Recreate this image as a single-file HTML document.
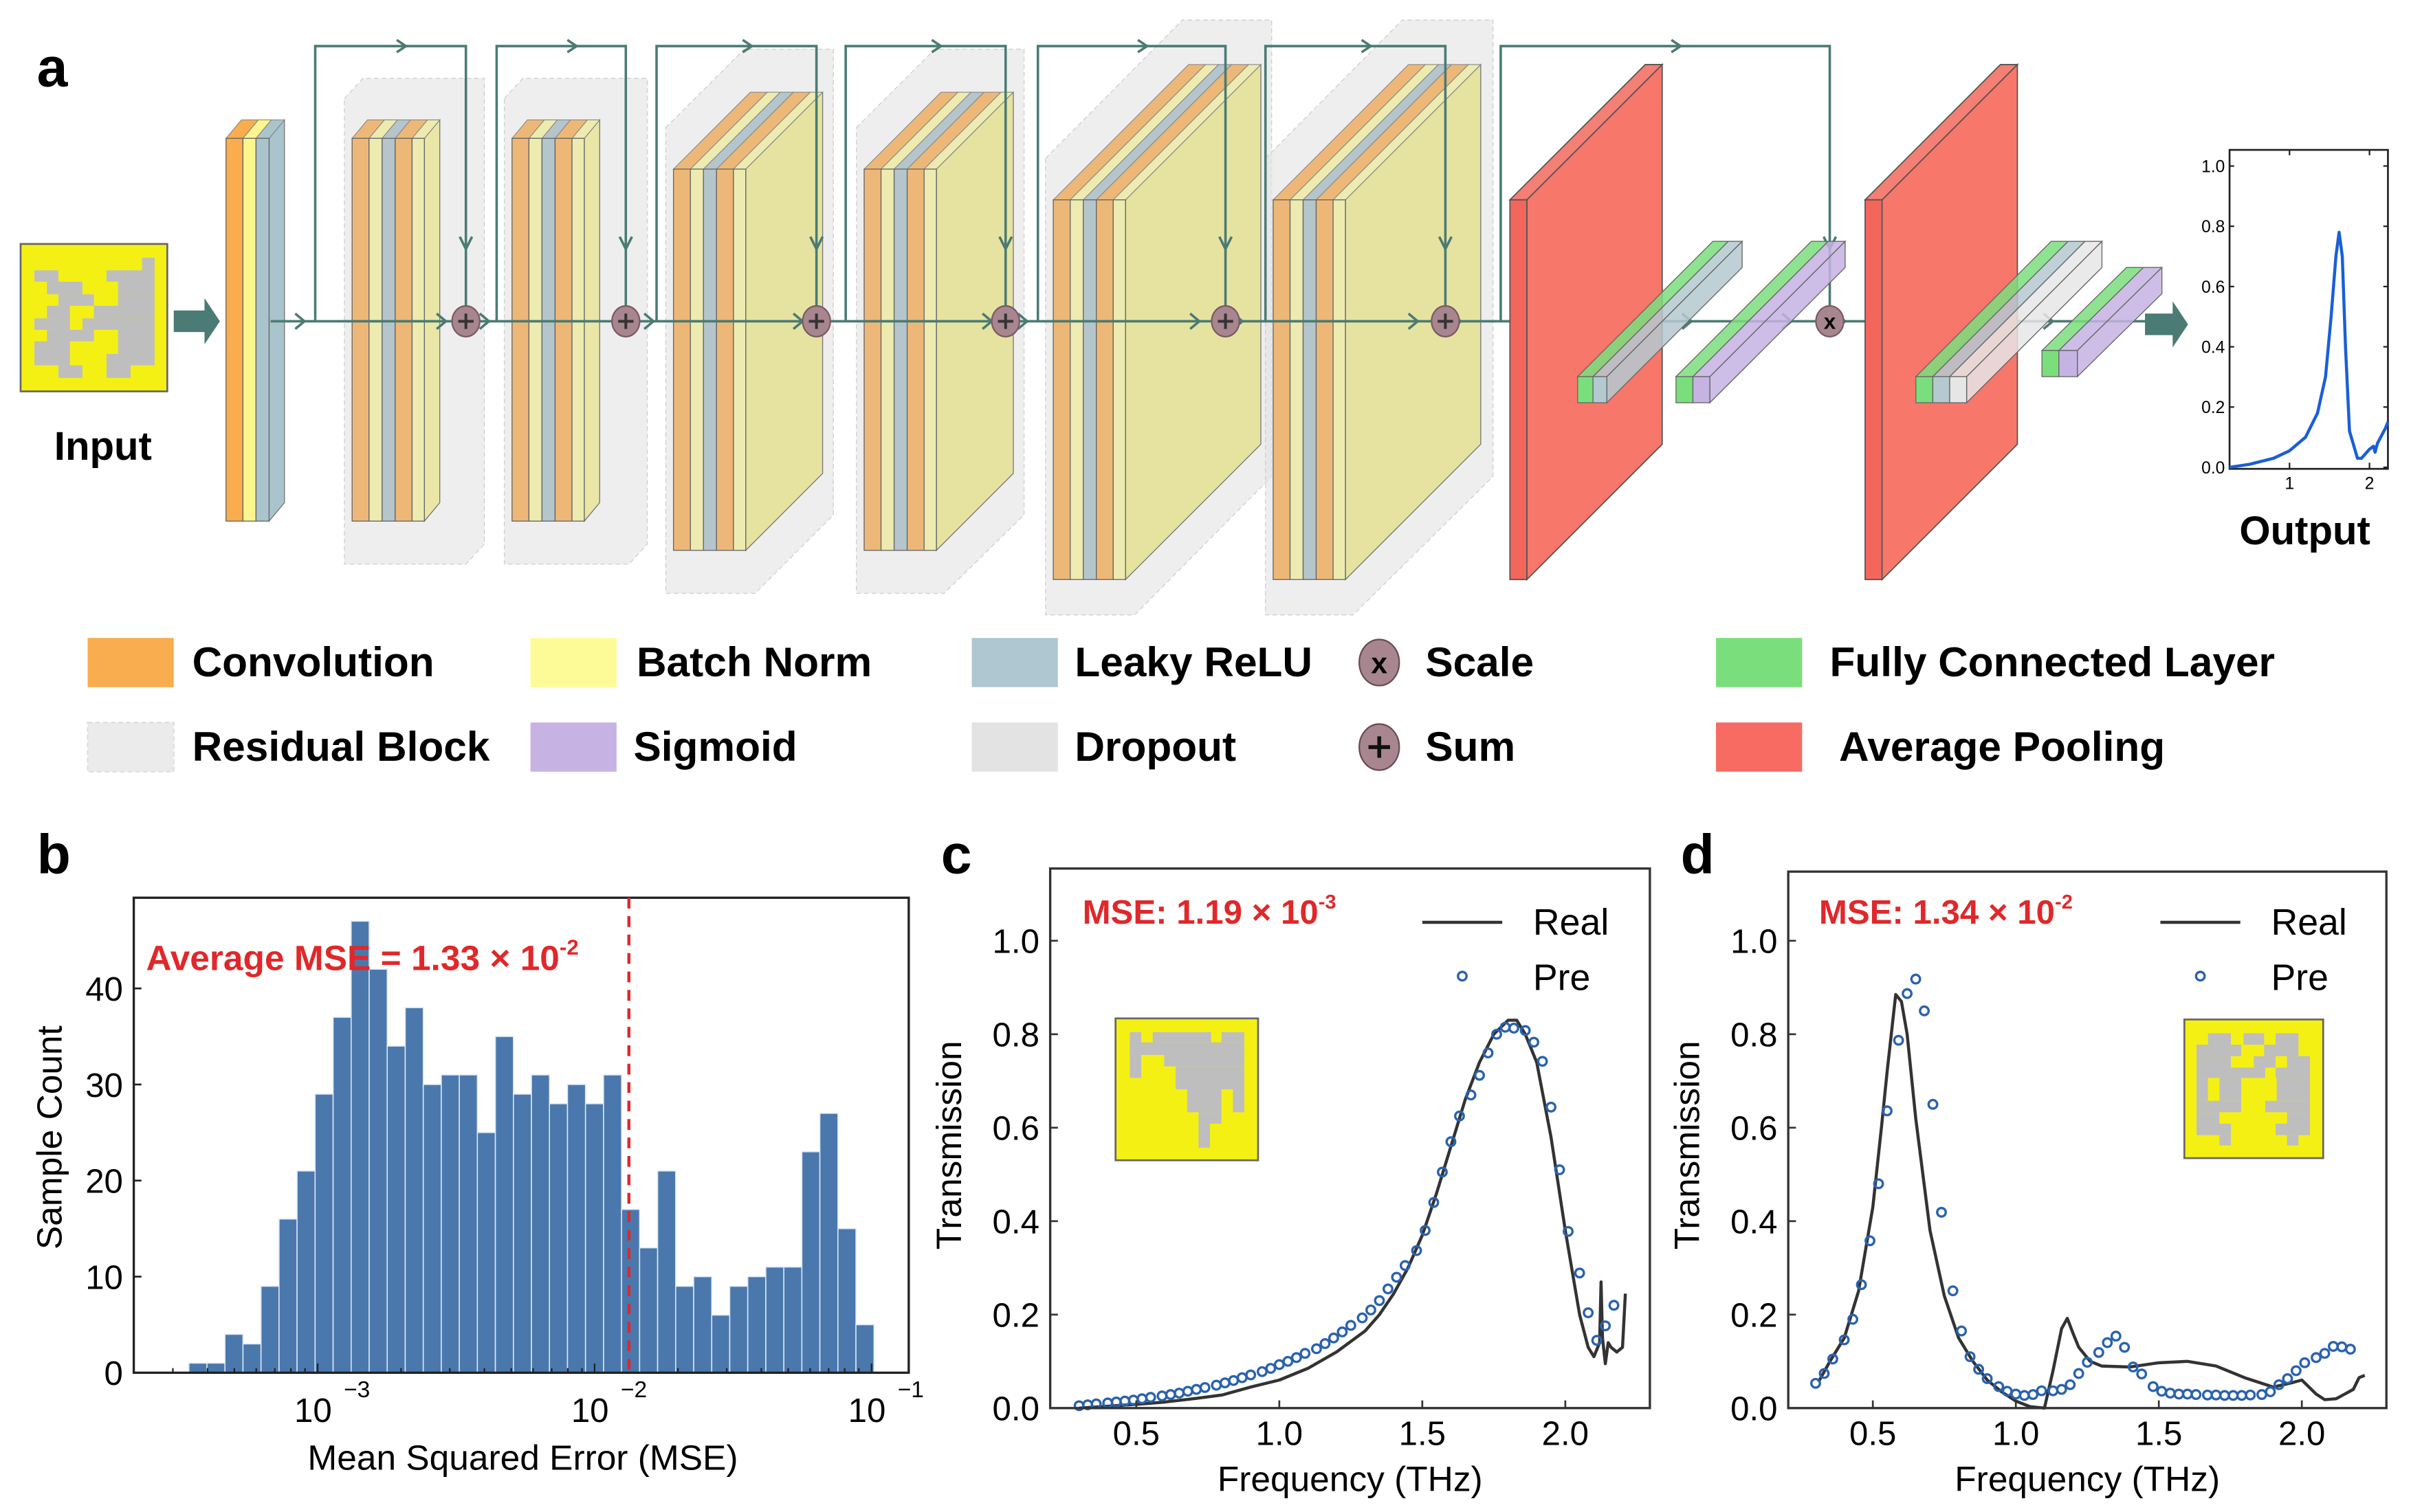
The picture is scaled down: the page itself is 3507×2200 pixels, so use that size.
<!DOCTYPE html>
<html><head><meta charset="utf-8"><style>
html,body{margin:0;padding:0;background:#fff;}
svg{display:block;font-family:"Liberation Sans",sans-serif;}
</style></head><body>
<svg id="fig" width="3507" height="2200" viewBox="0 0 1568 983.6" preserveAspectRatio="none" xmlns="http://www.w3.org/2000/svg">
<rect width="1568" height="983.6" fill="#fff"/>
<g id="diagram"></g>
<g id="legendA"></g>
<g id="chartB"></g>
<g id="chartC"></g>
<g id="chartD"></g>
</svg>
<script>
// ===== Panel b data =====
const histCounts=[1,1,4,3,9,16,21,29,37,47,42,34,38,30,31,31,25,35,29,31,28,30,28,31,17,13,21,9,10,6,9,10,11,11,23,27,15,5];
const binStartExp=-3.465, binWidthExp=0.0651;
const avgMSE=0.0133;
const bYTicks=[0,10,20,30,40];
const bXTickExps=[-3,-2,-1];
// ===== Panel c data =====
const cPreFreq=[0.30,0.33,0.36,0.40,0.43,0.46,0.49,0.52,0.55,0.59,0.62,0.65,0.68,0.71,0.74,0.78,0.81,0.84,0.87,0.90,0.94,0.97,1.00,1.03,1.06,1.09,1.13,1.16,1.19,1.22,1.25,1.29,1.32,1.35,1.38,1.41,1.44,1.48,1.51,1.54,1.57,1.60,1.63,1.67,1.70,1.73,1.76,1.79,1.82,1.86,1.89,1.92,1.95,1.98,2.01,2.05,2.08,2.11,2.14,2.17];
const cPreVal=[0.005,0.007,0.009,0.011,0.013,0.015,0.017,0.02,0.023,0.026,0.029,0.032,0.036,0.04,0.044,0.049,0.054,0.059,0.065,0.071,0.078,0.085,0.093,0.1,0.108,0.117,0.127,0.138,0.15,0.163,0.177,0.193,0.21,0.23,0.255,0.28,0.305,0.337,0.38,0.44,0.505,0.57,0.625,0.67,0.712,0.76,0.8,0.815,0.813,0.808,0.783,0.742,0.644,0.51,0.378,0.289,0.204,0.145,0.176,0.22];
const cRealFreq=[0.3,0.4,0.5,0.6,0.7,0.8,0.9,1.0,1.1,1.2,1.3,1.35,1.4,1.45,1.5,1.55,1.6,1.65,1.7,1.75,1.8,1.83,1.86,1.9,1.95,2.0,2.05,2.08,2.1,2.12,2.125,2.13,2.14,2.15,2.16,2.18,2.2,2.21];
const cRealVal=[0.0,0.004,0.008,0.013,0.02,0.028,0.045,0.06,0.085,0.12,0.165,0.2,0.245,0.3,0.37,0.46,0.56,0.66,0.74,0.8,0.83,0.83,0.8,0.74,0.58,0.38,0.2,0.13,0.11,0.14,0.27,0.15,0.095,0.14,0.13,0.12,0.13,0.245];
// ===== Panel d data =====
const dPreFreq=cPreFreq.slice();
const dPreVal=[0.053,0.074,0.105,0.146,0.19,0.264,0.358,0.48,0.636,0.787,0.887,0.918,0.85,0.65,0.419,0.251,0.165,0.11,0.083,0.063,0.046,0.036,0.03,0.027,0.029,0.037,0.037,0.04,0.05,0.074,0.098,0.119,0.14,0.154,0.13,0.088,0.073,0.046,0.036,0.032,0.03,0.03,0.029,0.028,0.028,0.027,0.027,0.027,0.028,0.029,0.035,0.05,0.063,0.08,0.097,0.108,0.117,0.132,0.131,0.126];
const dRealFreq=[0.31,0.35,0.4,0.45,0.5,0.53,0.55,0.58,0.6,0.62,0.65,0.7,0.75,0.8,0.85,0.9,0.95,1.0,1.05,1.1,1.13,1.16,1.18,1.2,1.22,1.26,1.3,1.4,1.5,1.6,1.7,1.8,1.9,1.97,2.0,2.05,2.08,2.12,2.15,2.18,2.2,2.22];
const dRealVal=[0.056,0.1,0.15,0.25,0.43,0.6,0.72,0.885,0.87,0.8,0.62,0.38,0.24,0.15,0.1,0.06,0.035,0.015,0.003,0.0,0.08,0.17,0.192,0.16,0.13,0.1,0.09,0.088,0.097,0.1,0.09,0.065,0.045,0.055,0.06,0.03,0.018,0.02,0.03,0.04,0.065,0.07];
const specYTicks=[0,0.2,0.4,0.6,0.8,1.0];
const specXTicks=[0.5,1.0,1.5,2.0];
// ===== mini output plot =====
const outFreq=[0.25,0.5,0.8,1.0,1.2,1.35,1.45,1.52,1.58,1.62,1.66,1.7,1.75,1.85,1.9,2.0,2.05,2.07,2.1,2.2,2.23];
const outVal=[0.0,0.01,0.03,0.055,0.1,0.18,0.3,0.5,0.7,0.78,0.7,0.4,0.12,0.03,0.03,0.06,0.07,0.05,0.08,0.13,0.15];

const NS="http://www.w3.org/2000/svg";
function mk(parent,tag,attrs,text){const e=document.createElementNS(NS,tag);for(const k in attrs)e.setAttribute(k,attrs[k]);if(text!==undefined)e.textContent=text;parent.appendChild(e);return e;}
const D=document.getElementById('diagram');
const TEAL="#4A7B74";

// ---------- Panel a ----------
let t=mk(D,'text',{x:24,y:56,'font-size':36,'font-weight':'bold'},'a');



const inp=mk(D,'g',{});


mk(inp,'rect',{x:13.4,y:158.7,width:95.4,height:95.9,fill:'#F5F014',stroke:'#666','stroke-width':1.2});
const inRects=[[150,280,255,330],[465,280,675,330],[620,225,675,280],[205,330,360,385],[515,330,675,385],[255,385,410,435],[515,385,675,435],[205,435,305,490],[410,435,675,490],[150,490,305,540],[360,490,675,540],[205,540,410,590],[515,540,675,590],[150,590,305,645],[515,590,675,645],[150,645,305,695],[465,645,675,695],[255,695,360,750],[465,695,570,750]];
inRects.forEach(r=>mk(inp,'rect',{x:r[0]*0.149,y:r[1]*0.149+134.1,width:(r[2]-r[0])*0.149,height:(r[3]-r[1])*0.149,fill:'#BEBEBE'}));
t=mk(D,'text',{x:67,y:299,'font-size':26,'font-weight':'bold','text-anchor':'middle'},'Input');


function bigArrow(x0,x1,yc,name){const g=mk(D,'polygon',{points:`${x0},${yc-7} ${x1-10},${yc-7} ${x1-10},${yc-15} ${x1},${yc} ${x1-10},${yc+15} ${x1-10},${yc+7} ${x0},${yc+7}`,fill:TEAL});}
bigArrow(113,143,209,'input-arrow');

function bgBox(pts,name){const p=mk(D,'polygon',{points:pts,fill:'#E2E2E2','fill-opacity':0.6,stroke:'#cfcfcf','stroke-width':0.6,'stroke-dasharray':'3,2'});}
bgBox('224,64 236,51 315,51 315,354 303,367 224,367','residual-block-1');
bgBox('328,64 340,51 421,51 421,354 409,367 328,367','residual-block-2');
bgBox('433,83 484,32 542,32 542,335 491,386 433,386','residual-block-3');
bgBox('557,83 608,32 666,32 666,335 614,386 557,386','residual-block-4');
bgBox('680,103 769,13 827,13 827,310 738,400 680,400','residual-block-5');
bgBox('823,103 912,13 971,13 971,310 880,400 823,400','residual-block-6');

const C_OR="#EDB877",C_YE="#EDEBB0",C_BL="#B4C5CB";
function slab(name,x,y0,y1,widths,cols,dx,dy,sideCol){
  const g=mk(D,'g',{});
  
  
  let xx=x;
  const tot=widths.reduce((a,b)=>a+b,0);const xr=x+tot;
  mk(g,'polygon',{points:`${xr},${y0} ${xr+dx},${y0+dy} ${xr+dx},${y1+dy} ${xr},${y1}`,fill:sideCol,stroke:'#777','stroke-width':0.6});
  widths.forEach((w,i)=>{
    mk(g,'polygon',{points:`${xx},${y0} ${xx+w},${y0} ${xx+w+dx},${y0+dy} ${xx+dx},${y0+dy}`,fill:cols[i],stroke:'#888','stroke-width':0.5});
    mk(g,'rect',{x:xx,y:y0,width:w,height:y1-y0,fill:cols[i],stroke:'#666','stroke-width':0.6});
    xx+=w;
  });
}
slab('conv-block-0',147,90,339,[11,8.5,8.5],['#F9AD4F','#FDF58D','#A9C4CD'],10,-12,'#A9C4CD');
const L5=[11,8.5,8.5,11,8],C5=[C_OR,C_YE,C_BL,C_OR,C_YE];
slab('conv-block-1',229,90,339,L5,C5,10,-12,'#E9E6A6');
slab('conv-block-2',333,90,339,L5,C5,10,-12,'#E9E6A6');
slab('conv-block-3',438,110,358,L5,C5,50,-50,'#E6E3A1');
slab('conv-block-4',562,110,358,L5,C5,50,-50,'#E6E3A1');
slab('conv-block-5',685,130,377,L5,C5,88,-88,'#E6E3A1');
slab('conv-block-6',828,130,377,L5,C5,88,-88,'#E6E3A1');

const flow=mk(D,'g',{stroke:TEAL,'stroke-width':1.6,fill:'none'});


mk(flow,'line',{x1:176,y1:209,x2:1396,y2:209});
const skips=[[205,303],[323,407],[427,531],[550,654],[675,797],[823,940],[976,1190]];
skips.forEach(s=>{mk(flow,'polyline',{points:`${s[0]},209 ${s[0]},30 ${s[1]},30 ${s[1]},200`});
  const mx=(s[0]+s[1])/2+10;mk(flow,'polyline',{points:`${mx-6},26 ${mx},30 ${mx-6},34`});
  mk(flow,'polyline',{points:`${s[1]-4},154 ${s[1]},162 ${s[1]+4},154`});});
[198,290,318,413,425,522,540,645,668,780,808,922,950,1058,1100,1165,1200,1278,1335].forEach(ax=>mk(flow,'polyline',{points:`${ax-6},204 ${ax},209 ${ax-6},214`}));

function plate(name,x){const g=mk(D,'g',{stroke:'#555','stroke-width':0.8});
  mk(g,'polygon',{points:`${x+11},130 ${x+99},42 ${x+99},289 ${x+11},377`,fill:'#F8776B'});
  mk(g,'polygon',{points:`${x},130 ${x+88},42 ${x+99},42 ${x+11},130`,fill:'#F47F74'});
  mk(g,'rect',{x:x,y:130,width:11,height:247,fill:'#F2665C'});}
plate('avg-pool-1',982);
plate('avg-pool-2',1213);
function bar(name,x,y0,y1,widths,cols,dx,dy){
  const g=mk(D,'g',{'stroke':'#666','stroke-width':0.6});
  const tot=widths.reduce((a,b)=>a+b,0);const xr=x+tot;
  mk(g,'polygon',{points:`${xr},${y0} ${xr+dx},${y0+dy} ${xr+dx},${y1+dy} ${xr},${y1}`,fill:cols[cols.length-1],'fill-opacity':0.85});
  let xx=x;widths.forEach((w,i)=>{mk(g,'polygon',{points:`${xx},${y0} ${xx+w},${y0} ${xx+w+dx},${y0+dy} ${xx+dx},${y0+dy}`,fill:cols[i],'fill-opacity':0.85});
  mk(g,'rect',{x:xx,y:y0,width:w,height:y1-y0,fill:cols[i]});xx+=w;});}
bar('fc-block-1',1026,245,262,[10,9],['#7BDE7C','#B4C9D0'],88,-88);
bar('fc-block-2',1090,245,262,[11,11],['#7BDE7C','#C6B3E3'],88,-88);
bar('fc-block-3',1246,245,262,[11,11,11],['#7BDE7C','#B4C9D0','#E6E6E6'],88,-88);
bar('fc-block-4',1328,228,245,[11,12],['#7BDE7C','#C6B3E3'],55,-54);

function op(x,y,sym,name){const g=mk(D,'g',{});
  mk(g,'ellipse',{cx:x,cy:y,rx:9,ry:10,fill:'#A8868F',stroke:'#7a5a64','stroke-width':1});
  if(sym==='+'){mk(g,'path',{d:`M${x-5},${y}H${x+5}M${x},${y-5}V${y+5}`,stroke:'#333','stroke-width':1.8});}
  else mk(g,'text',{x:x,y:y+5,'font-size':14,'font-weight':'bold','text-anchor':'middle'},'x');}
[303,407,531,654,797,940].forEach((x,i)=>op(x,209,'+','sum-node-'+(i+1)));
op(1190,209,'x','scale-node');
bigArrow(1395,1423,211,'output-arrow');

const mini=mk(D,'g',{});


mk(mini,'rect',{x:1450,y:97.5,width:103,height:207.5,fill:'none',stroke:'#222','stroke-width':1.2});
const mx=f=>1489+(f-1)*52, my=v=>304-v*196;
[0,0.2,0.4,0.6,0.8,1.0].forEach(v=>{mk(mini,'line',{x1:1450,y1:my(v),x2:1453,y2:my(v),stroke:'#222'});mk(mini,'line',{x1:1553,y1:my(v),x2:1550,y2:my(v),stroke:'#222'});mk(mini,'text',{x:1447,y:my(v)+4,'font-size':11,'text-anchor':'end'},v.toFixed(1));});
[1,2].forEach(f=>{mk(mini,'line',{x1:mx(f),y1:305,x2:mx(f),y2:301,stroke:'#222'});mk(mini,'line',{x1:mx(f),y1:97.5,x2:mx(f),y2:101,stroke:'#222'});mk(mini,'text',{x:mx(f),y:318,'font-size':11,'text-anchor':'middle'},String(f));});
mk(mini,'polyline',{points:outFreq.map((f,i)=>`${mx(f)},${my(outVal[i])}`).join(' '),fill:'none',stroke:'#1a5fd6','stroke-width':2,'stroke-linejoin':'round'});
t=mk(D,'text',{x:1499,y:354,'font-size':26,'font-weight':'bold','text-anchor':'middle'},'Output');



// ---------- legend ----------
const LG=document.getElementById('legendA');
const legItems=[
 ['Convolution','#F9AD4F',57,125,0],['Batch Norm','#FDFB97',345,414,0],['Leaky ReLU','#AFC7D0',632,699,0],['Scale','op-x',897,927,0],['Fully Connected Layer','#7BDE7C',1116,1190,0],
 ['Residual Block','#EBEBEB',57,125,1],['Sigmoid','#C6B3E3',345,412,1],['Dropout','#E3E3E3',632,699,1],['Sum','op-+',897,927,1],['Average Pooling','#F86B62',1116,1196,1]];
legItems.forEach(it=>{
  const g=mk(LG,'g',{});
  
  
  const yt=it[4]?470:415;
  if(it[1].startsWith('op')){const cy=yt+16;mk(g,'ellipse',{cx:it[2],cy:cy,rx:13,ry:15,fill:'#A8868F',stroke:'#6a4a54'});
    if(it[1]==='op-x')mk(g,'text',{x:it[2],y:cy+7,'font-size':19,'font-weight':'bold','text-anchor':'middle'},'x');
    else mk(g,'path',{d:`M${it[2]-7},${cy}H${it[2]+7}M${it[2]},${cy-7}V${cy+7}`,stroke:'#111','stroke-width':2.5});}
  else mk(g,'rect',{x:it[2],y:yt,width:56,height:32,fill:it[1],stroke:it[0]==='Residual Block'?'#ddd':'none','stroke-dasharray':'3,2'});
  mk(g,'text',{x:it[3],y:yt+25,'font-size':27,'font-weight':'bold'},it[0]);
});

// helper: text with superscript exponent inline
function supText(parent,attrs,base,exp,expSize){
  const e=mk(parent,'text',attrs);
  mk(e,'tspan',{},base);
  mk(e,'tspan',{dy:-10,'font-size':expSize},exp);
  return e;
}

// ---------- Panel b ----------
const B=document.getElementById('chartB');
t=mk(B,'text',{x:24,y:568,'font-size':36,'font-weight':'bold'},'b');


const bx=lg=>206.6+(lg+3)*180.1, by=c=>893-6.25*c;
histCounts.forEach((c,i)=>{const l=binStartExp+i*binWidthExp;const r=mk(B,'rect',{x:bx(l),y:by(c),width:bx(l+binWidthExp)-bx(l),height:893-by(c),fill:'#4A78AD',stroke:'#dfe7f2','stroke-width':0.7});
  
  });
mk(B,'rect',{x:87,y:584,width:504,height:309,fill:'none',stroke:'#222','stroke-width':1.5});
bYTicks.forEach(v=>{mk(B,'line',{x1:87,y1:by(v),x2:92,y2:by(v),stroke:'#222','stroke-width':1.2});const tt=mk(B,'text',{x:80,y:by(v)+8,'font-size':22,'text-anchor':'end'},String(v));});
for(let e=-4;e<=-1;e++){for(let m=1;m<10;m++){const lg=e+Math.log10(m);if(lg<-3.66||lg>-0.87)continue;const len=m===1?6:3;mk(B,'line',{x1:bx(lg),y1:893,x2:bx(lg),y2:893-len,stroke:'#222','stroke-width':1});}}
bXTickExps.forEach(e=>{const x=bx(e);const tt=mk(B,'text',{x:x-3,y:925,'font-size':22,'text-anchor':'middle'},'10');mk(B,'text',{x:x+17,y:909,'font-size':15},'\u2212'+Math.abs(e));});
const dl=mk(B,'line',{x1:bx(Math.log10(avgMSE)),y1:584,x2:bx(Math.log10(avgMSE)),y2:893,stroke:'#E0282B','stroke-width':2,'stroke-dasharray':'7,5'});


t=supText(B,{x:95,y:631,'font-size':23,'font-weight':'bold',fill:'#E0282B'},'Average MSE = 1.33 \u00d7 10','-2',14);


t=mk(B,'text',{x:0,y:0,'font-size':23,'text-anchor':'middle',transform:'translate(40,740) rotate(-90)'},'Sample Count');


t=mk(B,'text',{x:340,y:956,'font-size':23,'text-anchor':'middle'},'Mean Squared Error (MSE)');



// ---------- spectra ----------
function spectrum(G,label,lx,box,x05,pf,pv,rf,rv,mse,mseExp,msex,legx,inset,insRects,insOff){
  const sx=f=>x05+(f-0.5)*186, sy=v=>916-v*304;
  t=mk(G,'text',{x:lx,y:568,'font-size':36,'font-weight':'bold'},label);
  
  
  const ig=mk(G,'g',{});
  
  
  mk(ig,'rect',{x:inset[0],y:inset[1],width:inset[2],height:inset[3],fill:'#F5F014',stroke:'#666','stroke-width':1.2});
  insRects.forEach(r=>mk(ig,'rect',{x:r[0]*0.149+insOff[0],y:r[1]*0.149+insOff[1],width:(r[2]-r[0])*0.149,height:(r[3]-r[1])*0.149,fill:'#BEBEBE'}));
  const line=mk(G,'polyline',{points:rf.map((f,i)=>`${sx(f)},${sy(rv[i])}`).join(' '),fill:'none',stroke:'#333','stroke-width':2,'stroke-linejoin':'round'});
  
  
  pf.forEach((f,i)=>{const c=mk(G,'circle',{cx:sx(f),cy:sy(pv[i]),r:2.8,fill:'none',stroke:'#2A62AD','stroke-width':1.5});
    
    });
  mk(G,'rect',{x:box[0],y:box[1],width:box[2]-box[0],height:box[3]-box[1],fill:'none',stroke:'#333','stroke-width':1.5});
  specYTicks.forEach(v=>{mk(G,'line',{x1:box[0],y1:sy(v),x2:box[0]+5,y2:sy(v),stroke:'#333','stroke-width':1.2});const tt=mk(G,'text',{x:box[0]-7,y:sy(v)+8,'font-size':22,'text-anchor':'end'},v.toFixed(1));});
  specXTicks.forEach(f=>{mk(G,'line',{x1:sx(f),y1:box[3],x2:sx(f),y2:box[3]-5,stroke:'#333','stroke-width':1.2});const tt=mk(G,'text',{x:sx(f),y:940,'font-size':22,'text-anchor':'middle'},f.toFixed(1));});
  t=mk(G,'text',{x:0,y:0,'font-size':23,'text-anchor':'middle',transform:`translate(${box[0]-58},745) rotate(-90)`},'Transmission');
  
  
  t=mk(G,'text',{x:(box[0]+box[2])/2,y:970,'font-size':23,'text-anchor':'middle'},'Frequency (THz)');
  
  
  t=supText(G,{x:msex,y:601,'font-size':22,'font-weight':'bold',fill:'#E0282B'},mse,mseExp,13);
  
  
  const lgd=mk(G,'g',{});
  
  
  mk(lgd,'line',{x1:legx,y1:600,x2:legx+52,y2:600,stroke:'#333','stroke-width':2});
  mk(lgd,'text',{x:legx+72,y:608,'font-size':24},'Real');
  mk(lgd,'circle',{cx:legx+26,cy:635,r:2.8,fill:'none',stroke:'#2A62AD','stroke-width':1.5});
  mk(lgd,'text',{x:legx+72,y:644,'font-size':24},'Pre');
}
const insC=[[130,155,180,355],[230,155,485,200],[530,155,630,200],[130,200,630,255],[280,255,630,305],[330,305,630,405],[380,405,530,505],[580,405,630,505],[430,505,530,555],[430,555,480,660]];
const insD=[[185,160,285,210],[340,160,430,210],[480,160,580,210],[135,210,330,260],[430,210,580,260],[135,260,285,310],[385,260,480,310],[530,260,630,310],[135,310,435,355],[480,310,630,355],[135,355,185,455],[235,355,330,455],[485,355,630,455],[135,455,330,505],[435,455,630,505],[135,505,235,555],[530,505,630,555],[135,555,285,605],[480,555,630,605],[235,605,285,650],[530,605,580,650]];
spectrum(document.getElementById('chartC'),'c',612,[683,565,1073,916],739,cPreFreq,cPreVal,cRealFreq,cRealVal,'MSE: 1.19 \u00d7 10','-3',704,925,[725.5,662.5,92.7,92.3],insC,[715.4,648.3]);
spectrum(document.getElementById('chartD'),'d',1093,[1163,567,1552,916],1218,dPreFreq,dPreVal,dRealFreq,dRealVal,'MSE: 1.34 \u00d7 10','-2',1183,1405,[1420.6,663.2,90.3,90.2],insD,[1408.4,648.3]);
</script>
</body></html>
